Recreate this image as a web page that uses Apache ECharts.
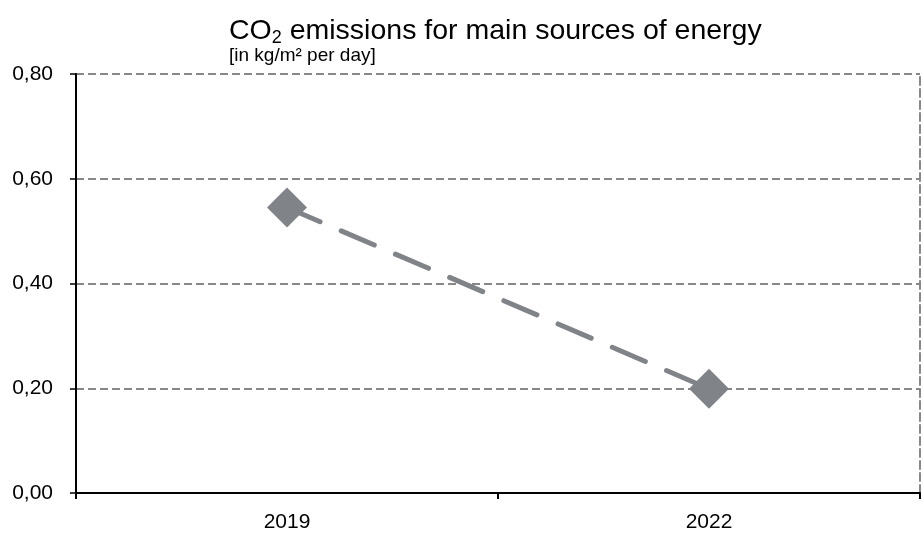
<!DOCTYPE html>
<html>
<head>
<meta charset="utf-8">
<script src="https://cdn.jsdelivr.net/npm/echarts@6/dist/echarts.min.js"></script>
<style>html,body{margin:0;padding:0;background:#fff}#c{width:923px;height:542px}</style>
</head>
<body>
<div id="c"></div>
<script>
const categories = ['2019', '2022'];
const co2Values = [0.545, 0.199];
const yTicks = [0, 0.2, 0.4, 0.6, 0.8];

const chart = echarts.init(document.getElementById('c'), null, {renderer: 'canvas'});
const font = 'Liberation Sans, Arial, sans-serif';
const gray = '#808489';
chart.setOption({
  animation: false,
  backgroundColor: '#fff',
  title: [{
    left: 224, top: 9,
    text: '{a|CO}{s|2}{a| emissions for main sources of energy}',
    textStyle: {
      fontWeight: 'normal',
      rich: {
        a: {fontFamily: font, fontSize: 28.5, fontWeight: 'normal', color: '#000', lineHeight: 34},
        s: {fontFamily: font, fontSize: 18, fontWeight: 'normal', color: '#000', lineHeight: 34, padding: [14, 0, 0, 0]}
      }
    }
  }, {
    left: 224, top: 40,
    text: '[in kg/m² per day]',
    textStyle: {fontFamily: font, fontSize: 19, fontWeight: 'normal', color: '#000', lineHeight: 22}
  }],
  grid: {left: 76, right: 3, top: 74, bottom: 49, containLabel: false},
  xAxis: {
    type: 'category',
    data: categories,
    boundaryGap: true,
    axisLine: {lineStyle: {color: '#000', width: 2}},
    axisTick: {show: true, length: 6, lineStyle: {color: '#000', width: 2}},
    axisLabel: {fontFamily: font, fontSize: 21, color: '#000', margin: 19},
    splitLine: {show: false}
  },
  yAxis: [{
    type: 'value',
    min: yTicks[0], max: yTicks[yTicks.length - 1], interval: 0.2,
    axisLine: {show: true, lineStyle: {color: '#000', width: 2}},
    axisTick: {show: true, length: 6, lineStyle: {color: '#000', width: 1.5}},
    axisLabel: {fontFamily: font, fontSize: 21, color: '#000', margin: 23,
      formatter: v => v.toFixed(2).replace('.', ',')},
    splitLine: {show: true, lineStyle: {color: '#888', width: 2, type: [8, 4]}}
  }, {
    type: 'value', position: 'right',
    min: yTicks[0], max: yTicks[yTicks.length - 1], interval: 0.2,
    axisLine: {show: true, lineStyle: {color: '#888', width: 2, type: [8, 4]}},
    axisTick: {show: false}, axisLabel: {show: false}, splitLine: {show: false}
  }],
  series: [{
    type: 'line',
    data: co2Values,
    symbol: 'diamond',
    symbolSize: 40,
    itemStyle: {color: gray},
    lineStyle: {color: gray, width: 5, type: [36, 23], cap: 'round'},
    z: 5
  }]
});
</script>
</body>
</html>
